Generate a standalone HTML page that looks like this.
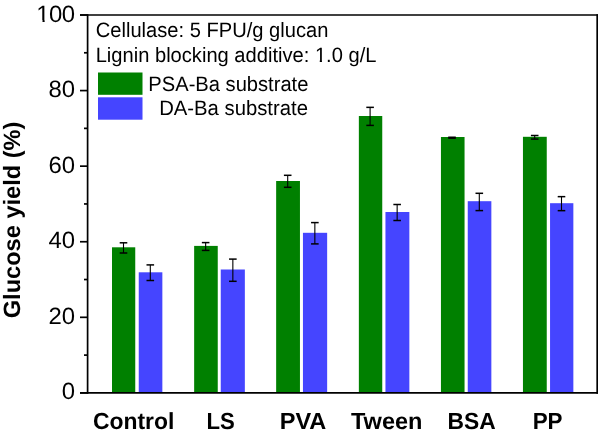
<!DOCTYPE html>
<html><head><meta charset="utf-8"><title>Glucose yield chart</title>
<style>
html,body{margin:0;padding:0;background:#fff;}
body{width:598px;height:438px;overflow:hidden;}
svg{display:block;font-family:"Liberation Sans",sans-serif;text-rendering:geometricPrecision;will-change:transform;}
</style></head>
<body>
<svg width="598" height="438" viewBox="0 0 598 438">
<rect width="598" height="438" fill="#fff"/>
<rect x="112.00" y="247.30" width="23.25" height="145.60" fill="#008000"/>
<rect x="138.75" y="272.30" width="23.60" height="120.60" fill="#4545ff"/>
<line x1="123.50" y1="242.80" x2="123.50" y2="253.00" stroke="#000" stroke-width="1.1"/>
<line x1="119.70" y1="242.80" x2="127.30" y2="242.80" stroke="#000" stroke-width="1.5"/>
<line x1="119.70" y1="253.00" x2="127.30" y2="253.00" stroke="#000" stroke-width="1.5"/>
<line x1="150.30" y1="264.90" x2="150.30" y2="280.50" stroke="#000" stroke-width="1.1"/>
<line x1="146.50" y1="264.90" x2="154.10" y2="264.90" stroke="#000" stroke-width="1.5"/>
<line x1="146.50" y1="280.50" x2="154.10" y2="280.50" stroke="#000" stroke-width="1.5"/>
<rect x="194.15" y="245.90" width="23.60" height="147.00" fill="#008000"/>
<rect x="220.75" y="269.50" width="24.10" height="123.40" fill="#4545ff"/>
<line x1="205.65" y1="242.60" x2="205.65" y2="250.40" stroke="#000" stroke-width="1.1"/>
<line x1="201.85" y1="242.60" x2="209.45" y2="242.60" stroke="#000" stroke-width="1.5"/>
<line x1="201.85" y1="250.40" x2="209.45" y2="250.40" stroke="#000" stroke-width="1.5"/>
<line x1="232.85" y1="259.10" x2="232.85" y2="281.30" stroke="#000" stroke-width="1.1"/>
<line x1="229.05" y1="259.10" x2="236.65" y2="259.10" stroke="#000" stroke-width="1.5"/>
<line x1="229.05" y1="281.30" x2="236.65" y2="281.30" stroke="#000" stroke-width="1.5"/>
<rect x="276.15" y="181.00" width="23.80" height="211.90" fill="#008000"/>
<rect x="302.95" y="232.80" width="24.20" height="160.10" fill="#4545ff"/>
<line x1="287.70" y1="175.30" x2="287.70" y2="187.30" stroke="#000" stroke-width="1.1"/>
<line x1="283.90" y1="175.30" x2="291.50" y2="175.30" stroke="#000" stroke-width="1.5"/>
<line x1="283.90" y1="187.30" x2="291.50" y2="187.30" stroke="#000" stroke-width="1.5"/>
<line x1="314.85" y1="222.60" x2="314.85" y2="243.90" stroke="#000" stroke-width="1.1"/>
<line x1="311.05" y1="222.60" x2="318.65" y2="222.60" stroke="#000" stroke-width="1.5"/>
<line x1="311.05" y1="243.90" x2="318.65" y2="243.90" stroke="#000" stroke-width="1.5"/>
<rect x="358.85" y="116.00" width="23.40" height="276.90" fill="#008000"/>
<rect x="385.45" y="212.00" width="23.90" height="180.90" fill="#4545ff"/>
<line x1="370.10" y1="107.35" x2="370.10" y2="125.40" stroke="#000" stroke-width="1.1"/>
<line x1="366.30" y1="107.35" x2="373.90" y2="107.35" stroke="#000" stroke-width="1.5"/>
<line x1="366.30" y1="125.40" x2="373.90" y2="125.40" stroke="#000" stroke-width="1.5"/>
<line x1="397.15" y1="204.50" x2="397.15" y2="220.50" stroke="#000" stroke-width="1.1"/>
<line x1="393.35" y1="204.50" x2="400.95" y2="204.50" stroke="#000" stroke-width="1.5"/>
<line x1="393.35" y1="220.50" x2="400.95" y2="220.50" stroke="#000" stroke-width="1.5"/>
<rect x="440.95" y="137.00" width="23.60" height="255.90" fill="#008000"/>
<rect x="467.75" y="201.20" width="23.60" height="191.70" fill="#4545ff"/>
<line x1="452.00" y1="137.25" x2="452.00" y2="138.15" stroke="#000" stroke-width="1.1"/>
<line x1="448.20" y1="137.25" x2="455.80" y2="137.25" stroke="#000" stroke-width="1.5"/>
<line x1="448.20" y1="138.15" x2="455.80" y2="138.15" stroke="#000" stroke-width="1.5"/>
<line x1="479.30" y1="193.30" x2="479.30" y2="210.60" stroke="#000" stroke-width="1.1"/>
<line x1="475.50" y1="193.30" x2="483.10" y2="193.30" stroke="#000" stroke-width="1.5"/>
<line x1="475.50" y1="210.60" x2="483.10" y2="210.60" stroke="#000" stroke-width="1.5"/>
<rect x="522.95" y="136.80" width="23.80" height="256.10" fill="#008000"/>
<rect x="550.05" y="203.20" width="23.30" height="189.70" fill="#4545ff"/>
<line x1="534.70" y1="135.50" x2="534.70" y2="139.10" stroke="#000" stroke-width="1.1"/>
<line x1="530.90" y1="135.50" x2="538.50" y2="135.50" stroke="#000" stroke-width="1.5"/>
<line x1="530.90" y1="139.10" x2="538.50" y2="139.10" stroke="#000" stroke-width="1.5"/>
<line x1="561.50" y1="196.65" x2="561.50" y2="210.65" stroke="#000" stroke-width="1.1"/>
<line x1="557.70" y1="196.65" x2="565.30" y2="196.65" stroke="#000" stroke-width="1.5"/>
<line x1="557.70" y1="210.65" x2="565.30" y2="210.65" stroke="#000" stroke-width="1.5"/>
<line x1="80" y1="15.0" x2="598.0500000000001" y2="15.0" stroke="#000" stroke-width="1.7"/>
<line x1="80" y1="392.9" x2="598.0500000000001" y2="392.9" stroke="#000" stroke-width="1.7"/>
<line x1="87.6" y1="14.15" x2="87.6" y2="393.75" stroke="#000" stroke-width="1.7"/>
<line x1="597.2" y1="14.15" x2="597.2" y2="393.75" stroke="#000" stroke-width="1.7"/>
<line x1="80" y1="392.90" x2="87.6" y2="392.90" stroke="#000" stroke-width="1.7"/>
<line x1="80" y1="317.32" x2="87.6" y2="317.32" stroke="#000" stroke-width="1.7"/>
<line x1="80" y1="241.74" x2="87.6" y2="241.74" stroke="#000" stroke-width="1.7"/>
<line x1="80" y1="166.16" x2="87.6" y2="166.16" stroke="#000" stroke-width="1.7"/>
<line x1="80" y1="90.58" x2="87.6" y2="90.58" stroke="#000" stroke-width="1.7"/>
<line x1="80" y1="15.00" x2="87.6" y2="15.00" stroke="#000" stroke-width="1.7"/>
<line x1="84" y1="355.11" x2="87.6" y2="355.11" stroke="#000" stroke-width="1.7"/>
<line x1="84" y1="279.53" x2="87.6" y2="279.53" stroke="#000" stroke-width="1.7"/>
<line x1="84" y1="203.95" x2="87.6" y2="203.95" stroke="#000" stroke-width="1.7"/>
<line x1="84" y1="128.37" x2="87.6" y2="128.37" stroke="#000" stroke-width="1.7"/>
<line x1="84" y1="52.79" x2="87.6" y2="52.79" stroke="#000" stroke-width="1.7"/>
<text transform="translate(75.05,399.00) scale(1.0000,0.9850)" font-size="23.9" text-anchor="end">0</text>
<text transform="translate(75.05,324.00) scale(1.0000,0.9850)" font-size="23.9" text-anchor="end">20</text>
<text transform="translate(75.05,248.00) scale(1.0000,0.9850)" font-size="23.9" text-anchor="end">40</text>
<text transform="translate(75.05,173.00) scale(1.0000,0.9850)" font-size="23.9" text-anchor="end">60</text>
<text transform="translate(75.05,97.00) scale(1.0000,0.9850)" font-size="23.9" text-anchor="end">80</text>
<clipPath id="c1"><path clip-rule="evenodd" d="M30,0H80V30H30Z M30,19.9H42.5V24H30Z M44.65,19.9H49.75V24H44.65Z"/></clipPath>
<g clip-path="url(#c1)"><text transform="translate(36.34,22) scale(1,0.985)" font-size="23.9" letter-spacing="-0.58">100</text></g>
<text transform="translate(92.98,429.00) scale(0.9830,1.0000)" font-size="23.3" font-weight="bold">Control</text>
<text transform="translate(206.51,429.00) scale(0.9501,1.0000)" font-size="23.3" font-weight="bold">LS</text>
<text transform="translate(279.71,429.00) scale(1.0096,1.0000)" font-size="23.3" font-weight="bold">PVA</text>
<text transform="translate(350.96,429.00) scale(1.0110,1.0000)" font-size="23.3" font-weight="bold">Tween</text>
<text transform="translate(447.56,429.00) scale(0.9786,1.0000)" font-size="23.3" font-weight="bold">BSA</text>
<text transform="translate(532.69,429.00) scale(0.9611,1.0000)" font-size="23.3" font-weight="bold">PP</text>
<text transform="translate(19.96,318.24) rotate(-90) scale(1.0000,1.0000)" font-size="23.602" font-weight="bold">Glucose yield (%)</text>
<text transform="translate(95.79,37.00) scale(0.9986,1.0300)" font-size="20.15">Cellulase: 5 FPU/g glucan</text>
<clipPath id="c2"><path clip-rule="evenodd" d="M90,40H390V70H90Z M314.8,59.95H319.75V64H314.8Z M321.95,59.95H326.4V64H321.95Z"/></clipPath>
<g clip-path="url(#c2)"><text transform="translate(95.64,62.00) scale(0.9992,1.0300)" font-size="20.15">Lignin blocking additive: 1.0 g/L</text></g>
<rect x="98.0" y="72.5" width="44.5" height="22.3" fill="#008000"/>
<rect x="98.0" y="97.3" width="44.5" height="22.4" fill="#4545ff"/>
<text transform="translate(148.34,91.00) scale(0.9999,1.0300)" font-size="20.15">PSA-Ba substrate</text>
<text transform="translate(159.13,115.00) scale(1.0070,1.0300)" font-size="20.15">DA-Ba substrate</text>
</svg>
</body></html>
